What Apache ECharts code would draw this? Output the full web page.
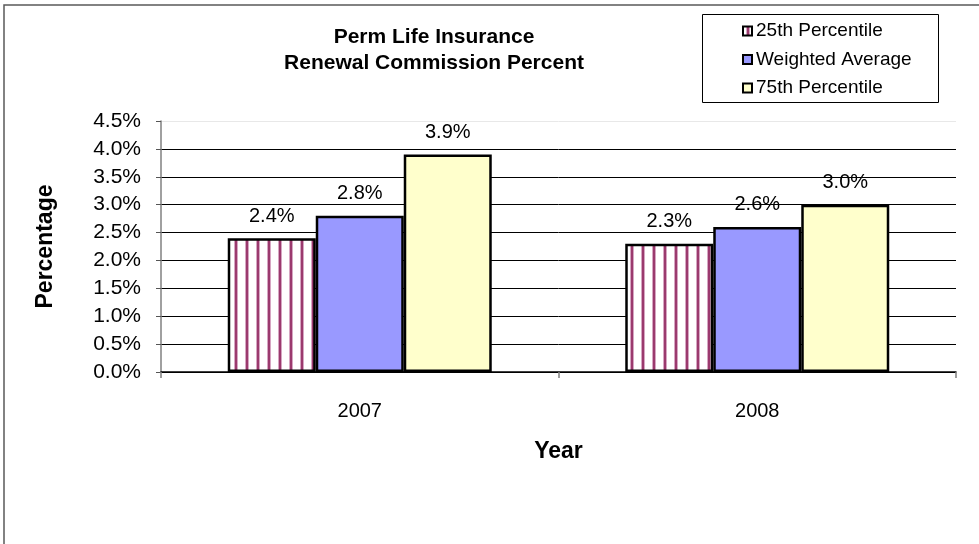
<!DOCTYPE html>
<html>
<head>
<meta charset="utf-8">
<script src="https://cdn.jsdelivr.net/npm/echarts@6/dist/echarts.min.js"></script>
<style>
html,body{margin:0;padding:0;background:#fff;}
#chart{width:979px;height:544px;}
</style>
</head>
<body>
<div id="chart"></div>
<script>
var categories = ['2007', '2008'];
var seriesNames = ['25th Percentile', 'Weighted Average', '75th Percentile'];
var p25 = [2.4, 2.3];
var wavg = [2.8, 2.6];
var p75 = [3.9, 3.0];
var yTicks = { min: 0, max: 4.5, interval: 0.5 };

var FONT = 'Liberation Sans, Arial, sans-serif';

function stripePattern() {
  var c = document.createElement('canvas');
  c.width = 11; c.height = 20;
  var ctx = c.getContext('2d');
  ctx.fillStyle = '#ffffff';
  ctx.fillRect(0, 0, 11, 20);
  ctx.fillStyle = '#d6a6c2';
  ctx.fillRect(3, 0, 4, 20);
  ctx.fillStyle = '#9b3a6e';
  ctx.fillRect(4, 0, 2, 20);
  return c;
}

var chart = echarts.init(document.getElementById('chart'), null, { renderer: 'canvas' });

var labelCfg = {
  show: true,
  position: 'top',
  distance: 12,
  color: '#000',
  fontFamily: FONT,
  fontSize: 20,
  formatter: function (p) { return p.value.toFixed(1) + '%'; }
};
var border = { borderColor: '#000', borderWidth: 2.5 };

var option = {
  backgroundColor: '#fff',
  animation: false,
  title: {
    text: 'Perm Life Insurance\nRenewal Commission Percent',
    left: 429,
    top: 19,
    textAlign: 'center',
    textStyle: { fontFamily: FONT, fontSize: 21, fontWeight: 'bold', color: '#000', lineHeight: 26 }
  },
  legend: {
    orient: 'vertical',
    left: 742,
    top: 20,
    icon: 'rect',
    itemWidth: 9,
    itemHeight: 9,
    itemGap: 6.5,
    padding: 0,
    data: seriesNames,
    textStyle: { fontFamily: FONT, fontSize: 19, color: '#000', lineHeight: 22, padding: [0, 0, 0, -1] },
    itemStyle: { borderColor: '#000', borderWidth: 2 }
  },
  graphic: [
    { type: 'rect', shape: { x: 4, y: 5, width: 1100, height: 700 }, style: { fill: 'none', stroke: '#5a5a5a', lineWidth: 1.5 }, silent: true },
    { type: 'rect', shape: { x: 702.5, y: 14.5, width: 236, height: 88 }, style: { fill: 'none', stroke: '#000', lineWidth: 1 }, silent: true, z: -1 }
  ],
  grid: { left: 161, right: 23, top: 121, bottom: 172, containLabel: false },
  xAxis: {
    type: 'category',
    data: categories,
    name: 'Year',
    nameLocation: 'middle',
    nameGap: 68,
    nameTextStyle: { fontFamily: FONT, fontSize: 23, fontWeight: 'bold', color: '#000' },
    axisLine: { lineStyle: { color: '#000', width: 1.5 } },
    axisTick: { show: true, length: 6, lineStyle: { color: '#808080', width: 1.5 } },
    axisLabel: { fontFamily: FONT, fontSize: 20, color: '#000', margin: 29 }
  },
  yAxis: {
    type: 'value',
    min: yTicks.min,
    max: yTicks.max,
    interval: yTicks.interval,
    name: 'Percentage',
    nameLocation: 'middle',
    nameGap: 104,
    nameTextStyle: { fontFamily: FONT, fontSize: 23, fontWeight: 'bold', color: '#000' },
    axisLine: { show: true, lineStyle: { color: '#808080', width: 1.5 } },
    axisTick: { show: true, length: 5, lineStyle: { color: '#555', width: 1 } },
    axisLabel: {
      fontFamily: FONT, fontSize: 21, color: '#000', margin: 20,
      formatter: function (v) { return v.toFixed(1) + '%'; }
    },
    splitLine: {
      show: true,
      lineStyle: { color: ['#000', '#000', '#000', '#000', '#000', '#000', '#000', '#000', '#000', '#e8e8e8'], width: 1 }
    }
  },
  series: [
    {
      name: seriesNames[0], type: 'bar', data: p25, barWidth: 88, barGap: '0%',
      itemStyle: Object.assign({ color: { image: stripePattern(), repeat: 'repeat' } }, border),
      label: labelCfg
    },
    {
      name: seriesNames[1], type: 'bar', data: wavg, barWidth: 88, barGap: '0%',
      itemStyle: Object.assign({ color: '#9999ff' }, border),
      label: labelCfg
    },
    {
      name: seriesNames[2], type: 'bar', data: p75, barWidth: 88, barGap: '0%',
      itemStyle: Object.assign({ color: '#ffffcc' }, border),
      label: labelCfg
    }
  ]
};
chart.setOption(option);
</script>
</body>
</html>
